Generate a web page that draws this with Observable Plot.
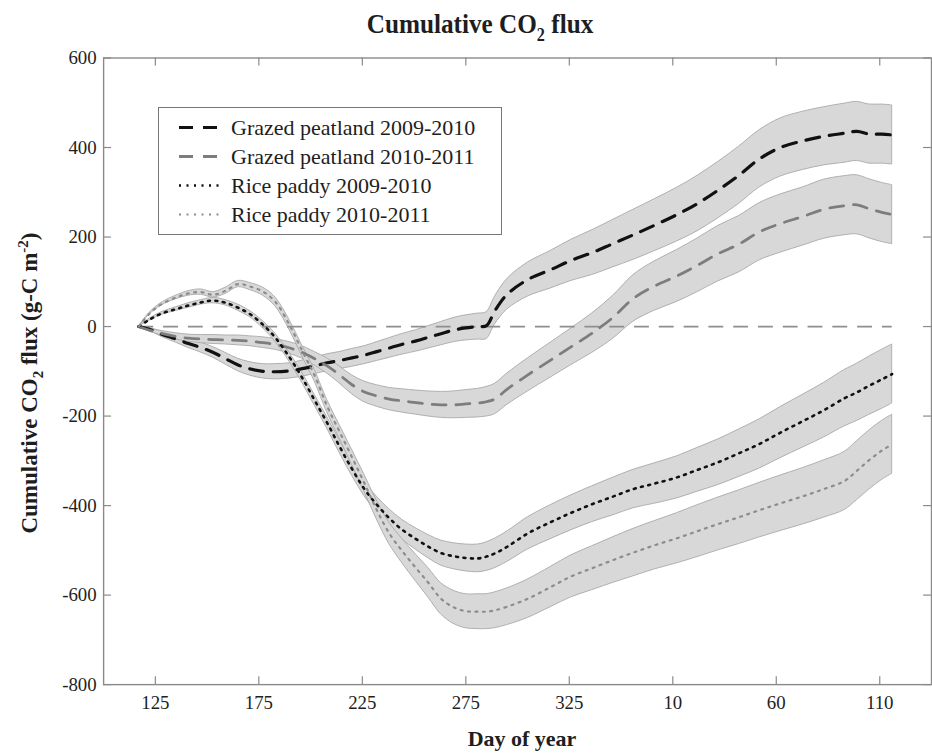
<!DOCTYPE html>
<html>
<head>
<meta charset="utf-8">
<script src="https://cdn.jsdelivr.net/npm/d3@7"></script>
<script src="https://cdn.jsdelivr.net/npm/@observablehq/plot@0.6"></script>
<style>
html, body { margin: 0; padding: 0; background: #fff; overflow: hidden; }
#wrap { position: relative; width: 932px; height: 754px; overflow: hidden; font-family: "Liberation Serif", "Times New Roman", serif; color: #1e1e1e; }
#chart { position: absolute; left: 0; top: 0; }
#title { position: absolute; left: 0; width: 960px; top: 8px; text-align: center; font-weight: bold; font-size: 28px; line-height: 32px; transform: scaleX(0.9); transform-origin: 480px 0; }
#title sub { font-size: 18px; vertical-align: -8px; line-height: 0; }
#ylabel { position: absolute; left: -170px; top: 369px; width: 400px; text-align: center; transform: rotate(-90deg); font-weight: bold; font-size: 23px; line-height: 28px; white-space: nowrap; }
#ylabel sub { font-size: 15px; vertical-align: -6px; line-height: 0; }
#ylabel sup { font-size: 15px; vertical-align: 9px; line-height: 0; }
#xlabel { position: absolute; left: 322px; width: 400px; top: 727px; text-align: center; font-weight: bold; font-size: 22px; line-height: 24px; }
#legend { position: absolute; left: 158px; top: 107px; width: 342px; height: 121px; border: 1px solid #777; background: #fff; padding-top: 5px; padding-bottom: 0; box-sizing: content-box; }
#legend .row { height: 29px; display: flex; align-items: center; font-size: 22px; white-space: nowrap; }
#legend svg { margin-left: 20px; margin-right: 12px; flex: none; }
</style>
</head>
<body>
<div id="wrap">
  <div id="chart"></div>
  <div id="title">Cumulative CO<sub>2</sub> flux</div>
  <div id="ylabel">Cumulative CO<sub>2</sub> flux (g-C m<sup>-2</sup>)</div>
  <div id="xlabel">Day of year</div>
  <div id="legend"></div>
</div>
<script>
// Day index (values above 365 belong to the following year)
const days = [117,122,128,135,141,147,153,159,165,171,177,183,190,196,202,208,214,220,226,232,238,244,251,257,263,269,275,281,285,289,295,305,316,326,336,346,356,366,377,387,397,407,417,427,438,448,458,464,470,476,481];

const grazed0910 = [0,-6,-17,-28,-38,-47,-58,-72,-86,-95,-100,-101,-99,-94,-88,-81,-76,-70,-64,-56,-48,-40,-32,-24,-16,-8,-3,0,2,35,72,105,127,148,165,185,205,226,250,275,305,338,375,400,415,425,432,436,430,430,428];
const grazed0910Err = [0,3,6,8,10,11,12,13,14,15,16,17,17,18,18,19,19,20,20,21,22,23,24,25,26,27,28,29,30,31,34,38,42,46,50,53,56,58,60,62,63,64,64,65,65,65,66,66,66,66,66];

const grazed1011 = [0,-8,-15,-22,-26,-28,-29,-30,-31,-33,-36,-40,-48,-58,-72,-88,-108,-130,-146,-155,-162,-166,-170,-173,-175,-175,-173,-171,-168,-162,-140,-108,-75,-45,-15,20,63,90,113,137,163,184,212,230,246,262,270,272,263,255,250];
const grazed1011Err = [0,3,5,7,8,9,10,10,11,11,12,12,13,14,15,17,19,21,23,24,25,26,27,28,29,30,31,32,33,34,35,37,39,41,44,48,52,55,58,60,62,63,64,65,65,66,66,66,66,66,66];

const rice0910 = [0,15,29,39,47,54,58,53,42,27,4,-25,-70,-115,-165,-215,-268,-318,-363,-398,-428,-453,-475,-492,-506,-513,-517,-518,-514,-507,-492,-462,-437,-416,-397,-380,-363,-351,-337,-320,-303,-283,-262,-237,-211,-187,-160,-147,-132,-118,-106];
const rice0910Err = [0,2,3,4,5,5,6,6,7,7,8,9,10,11,12,13,14,15,16,18,20,22,24,26,28,29,30,31,32,33,34,36,38,39,40,42,43,45,47,49,51,53,55,57,59,61,63,64,65,66,66];

const rice1011 = [0,28,50,65,74,77,71,80,95,89,78,55,2,-55,-110,-178,-235,-292,-350,-410,-462,-500,-540,-573,-608,-627,-636,-637,-637,-634,-626,-608,-582,-558,-540,-522,-505,-489,-473,-457,-441,-426,-410,-395,-379,-363,-345,-322,-298,-277,-263];
const rice1011Err = [0,2,3,4,5,6,6,7,7,8,9,10,11,12,13,14,15,17,19,21,24,27,30,33,35,37,38,39,39,40,41,43,45,47,49,51,53,54,56,58,59,60,61,62,63,64,65,66,66,66,66];

const seriesNames = ["Grazed peatland 2009-2010", "Grazed peatland 2010-2011", "Rice paddy 2009-2010", "Rice paddy 2010-2011"];
const xTicks = [125, 175, 225, 275, 325, 375, 425, 475];
const yTicks = [600, 400, 200, 0, -200, -400, -600, -800];

const styles = [
  {stroke: "#111", width: 3.2, dash: "14,10"},
  {stroke: "#7d7d7d", width: 2.8, dash: "14,10"},
  {stroke: "#111", width: 2.6, dash: "2,5.5"},
  {stroke: "#8c8c8c", width: 2.2, dash: "2,5.5"}
];

const values = [grazed0910, grazed1011, rice0910, rice1011];
const errs = [grazed0910Err, grazed1011Err, rice0910Err, rice1011Err];
const series = values.map((vals, i) => days.map((d, j) => ({day: d, v: vals[j], lo: vals[j] - errs[i][j], hi: vals[j] + errs[i][j]})));

const W = 940, H = 754, mL = 104, mR = 1, mT = 58, mB = 64;
const plotW = W - mL - mR, plotH = H - mT - mB;
const fmtX = d => String(d > 365 ? d - 365 : d);
const fmtY = d => String(d);
const tickColor = "#8a8a8a";

const chart = Plot.plot({
  width: W, height: H,
  marginLeft: mL, marginRight: mR, marginTop: mT, marginBottom: mB,
  style: {fontFamily: "'Liberation Serif', 'Times New Roman', serif", fontSize: "19px", color: "#1e1e1e", background: "transparent", overflow: "visible"},
  x: {domain: [100, 500], label: null},
  y: {domain: [-800, 600], label: null},
  marks: [
    ...series.map(rows => Plot.areaY(rows, {x: "day", y1: "lo", y2: "hi", fill: "#d8d8d8", stroke: "#a9a9a9", strokeWidth: 0.9, curve: "catmull-rom"})),
    Plot.ruleY([0], {x1: days[0], x2: days[days.length - 1], stroke: "#8e8e8e", strokeWidth: 1.7, strokeDasharray: "15,10"}),
    ...series.map((rows, i) => Plot.line(rows, {x: "day", y: "v", stroke: styles[i].stroke, strokeWidth: styles[i].width, strokeDasharray: styles[i].dash, curve: "catmull-rom"})),
    Plot.frame({stroke: tickColor, strokeWidth: 1.4}),
    Plot.tickX(xTicks, {x: d => d, insetTop: plotH - 8, stroke: tickColor, strokeWidth: 1.2}),
    Plot.tickX(xTicks, {x: d => d, insetBottom: plotH - 8, stroke: tickColor, strokeWidth: 1.2}),
    Plot.tickY(yTicks, {y: d => d, insetRight: plotW - 8, stroke: tickColor, strokeWidth: 1.2}),
    Plot.tickY(yTicks, {y: d => d, insetLeft: plotW - 8, stroke: tickColor, strokeWidth: 1.2}),
    Plot.axisX({ticks: xTicks, tickSize: 0, tickPadding: 11, tickFormat: fmtX, label: null}),
    Plot.axisY({ticks: yTicks, tickSize: 0, tickPadding: 7, tickFormat: fmtY, label: null})
  ]
});
document.getElementById("chart").appendChild(chart);

const legend = document.getElementById("legend");
seriesNames.forEach((name, i) => {
  const st = styles[i];
  const row = document.createElement("div");
  row.className = "row";
  row.innerHTML = `<svg width="40" height="29"><line x1="0" y1="14.5" x2="40" y2="14.5" stroke="${st.stroke}" stroke-width="${st.width}" stroke-dasharray="${st.dash}"/></svg><span>${name}</span>`;
  legend.appendChild(row);
});
</script>
</body>
</html>
